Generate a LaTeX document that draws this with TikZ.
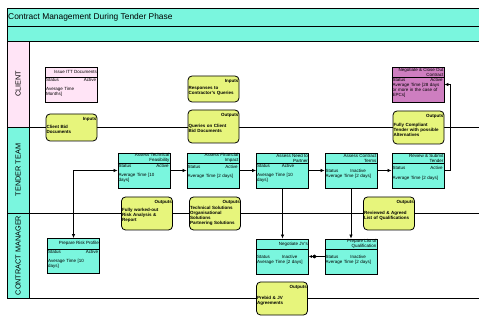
\documentclass[tikz,border=0pt]{standalone}
\usepackage{fontspec}
\setmainfont{Liberation Sans}
\usetikzlibrary{arrows.meta}
\definecolor{actcyan}{RGB}{122,246,222}
\definecolor{lanepink}{RGB}{255,228,246}
\definecolor{ioyellow}{RGB}{231,245,124}
\definecolor{closepurple}{RGB}{206,126,192}
\tikzset{
    lanetxt/.style={font=\fontsize{7.3}{8}\selectfont, rotate=90},
    act/.style={draw, line width=0.8pt, minimum width=52pt, minimum height=35pt, inner sep=0pt},
    acttxt/.style={font=\fontsize{4.5}{5}\selectfont, inner sep=0.8pt},
    iobox/.style={draw, line width=0.8pt, fill=ioyellow, rounded corners=4pt, minimum width=51pt, inner sep=0pt},
    iotxt/.style={font=\fontsize{4.5}{5}\selectfont\bfseries, inner sep=0.8pt},
    flow/.style={line width=0.7pt, -{Latex[length=4pt,width=3.5pt]}},
    twoflow/.style={line width=0.7pt, {Latex[length=4pt,width=3.5pt]}-{Latex[length=4pt,width=3.5pt]}}
}
% activity box: name, position, fill, title, body, body offset
\newcommand{\actbox}[6]{
    \node[act, fill=#3] (#1) at #2 {};
    \draw[line width=0.8pt] ([yshift=-11pt]#1.north west) -- ([yshift=-11pt]#1.north east);
    \node[acttxt, anchor=east, align=right] at ([yshift=-5.5pt]#1.north east) {#4};
    \node[acttxt, anchor=north west, text width=50pt, align=left] at ([yshift=-11pt-#6]#1.north west) {#5};
}
% inputs / outputs box: name, position, height, kind, text
\newcommand{\iobox}[5]{
    \node[iobox, minimum height=#3] (#1) at #2 {};
    \node[iotxt, anchor=north east] at ([yshift=-3pt]#1.north east) {#4};
    \node[iotxt, anchor=west, text width=49pt, align=left] at ([yshift=-2pt]#1.west) {#5};
}

\begin{document}
\begin{tikzpicture}[x=1pt,y=-1pt]
    \useasboundingbox (0,0) rectangle (479,320);
    % header bars
    \draw[fill=actcyan, line width=0.8pt] (7,8) rectangle (480,26);
    \draw[fill=actcyan, line width=0.8pt] (7,26) rectangle (480,41);
    \node[anchor=west, inner sep=1pt, font=\fontsize{8.4}{9}\selectfont] (title) at (7,17) {Contract Management During Tender Phase};
    % swim lanes
    \draw[fill=lanepink, line width=0.8pt] (7,41) rectangle (29,127);
    \draw[fill=actcyan, line width=0.8pt] (7,127) rectangle (29,213);
    \draw[fill=actcyan, line width=0.8pt] (7,213) rectangle (29,298);
    \node[lanetxt] (client) at (18,84) {CLIENT};
    \node[lanetxt] (tender) at (18,170) {TENDER TEAM};
    \node[lanetxt] (cman) at (18,255.5) {CONTRACT MANAGER};
    \draw[line width=0.8pt] (29,127) -- (480,127);
    \draw[line width=0.8pt] (29,213) -- (480,213);
    \draw[line width=0.8pt] (29,298) -- (480,298);

    % client lane
    \actbox{itt}{(71.5,84.5)}{lanepink}{Issue ITT Documents}{Status\hfill Active\\[4pt]Average Time\\ Months]}{0pt}
    \actbox{close}{(418,84.5)}{closepurple}{Negotiate \& Close Out\\Contract}{Status\hfill Active\\Average Time [28 days\\or more in the case of\\EPCs]}{0pt}
    \iobox{bid}{(71.5,127.5)}{27pt}{Inputs}{Client Bid\\Documents}
    \iobox{resp}{(213.5,89)}{26pt}{Inputs}{Responses to\\Contractor's Queries}
    \iobox{queries}{(213.5,126.5)}{33pt}{Outputs}{Queries on Client\\Bid Documents}
    \iobox{compliant}{(418.5,127.5)}{33pt}{Outputs}{Fully Compliant\\Tender with possible\\Alternatives}

    % tender team lane
    \actbox{tech}{(144,170.5)}{actcyan}{Assess Technical\\Feasibility}{Status\hfill Active\\[4pt]Average Time [10\\days]}{0pt}
    \actbox{fin}{(213,170.5)}{actcyan}{Assess Financial\\Impact}{Status\hfill Active\\[4pt]Average Time [2 days]}{1pt}
    \actbox{partner}{(282.5,170.5)}{actcyan}{Assess Need to\\Partner}{Status\hspace{12pt}Active\\[4pt]Average Time [10\\days]}{0pt}
    \actbox{terms}{(351,170.5)}{actcyan}{Assess Contract\\Terms}{Status\hspace{12pt}Inactive\\Average Time [2 days]}{5pt}
    \actbox{submit}{(418,170.5)}{actcyan}{Review \& Submit\\Tender}{Status\hfill Active\\[5pt]Average Time [2 days]}{2pt}
    \iobox{riskrep}{(147,213.5)}{33pt}{Outputs}{Fully worked-out\\Risk Analysis \&\\Report}
    \iobox{techsol}{(215,213.5)}{33pt}{Outputs}{Technical Solutions\\Organisational\\Solutions\\Partnering Solutions}
    \iobox{reviewed}{(389,213.5)}{33pt}{Outputs}{Reviewed \& Agreed\\List of Qualifications}

    % contract manager lane
    \actbox{risk}{(73.5,256)}{actcyan}{Prepare Risk Profile}{Status\hfill Active\\[4pt]Average Time [10\\days]}{0pt}
    \actbox{jv}{(282.5,256.5)}{actcyan}{Negotiate JV's}{Status\hspace{12pt}Inactive\\Average Time [2 days]}{5pt}
    \actbox{qual}{(351,256.5)}{actcyan}{Prepare List of\\Qualification}{Status\hspace{12pt}Inactive\\Average Time [2 days]}{5pt}
    \iobox{prebid}{(282,298.5)}{33pt}{Outputs}{Prebid \& JV\\Agreements}

    % connectors
    \draw[twoflow] (risk.north) |- (tech.west);
    \draw[flow] (tech.east) -- (fin.west);
    \draw[flow] (fin.east) -- (partner.west);
    \draw[flow] (partner.east) -- (terms.west);
    \draw[flow] (terms.east) -- (submit.west);
    \draw[flow] (submit.east) -- ++(6,0) |- (close.east);
    \draw[flow] (partner.south) -- (jv.north);
    \draw[flow] (terms.south) -- (qual.north);
    \draw[line width=0.7pt, {Latex[length=3pt,width=3pt]Diamond[length=5pt,width=4pt]}-] (jv.east) -- (qual.west);
\end{tikzpicture}
\end{document}
